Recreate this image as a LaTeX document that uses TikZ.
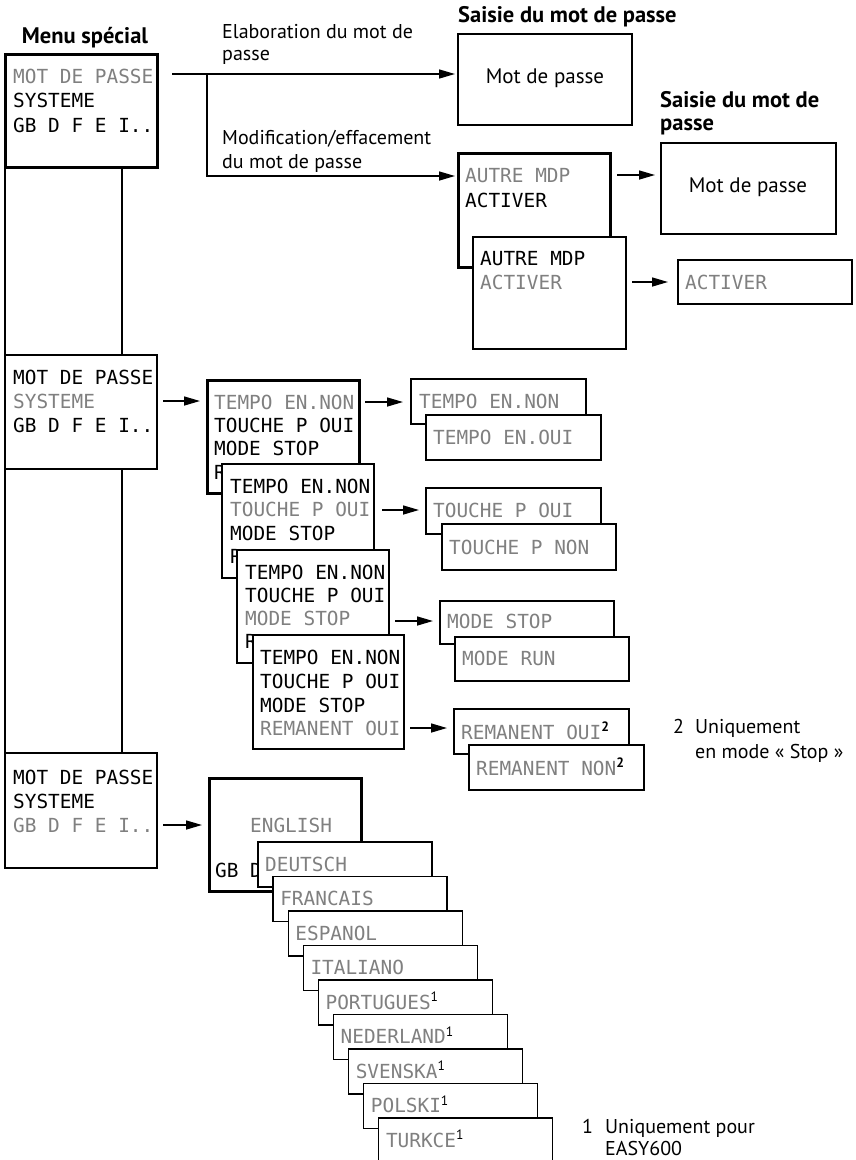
\documentclass[tikz,border=0pt]{standalone}
\usepackage{fontspec}
\setmainfont{PT Sans}
\newfontfamily\lcdfont{DejaVu Sans Mono}
\usetikzlibrary{arrows.meta,fit,calc}
\definecolor{lcdgray}{gray}{0.5}
\newcommand\lcdsup[1]{{\color{black}\textsuperscript{\rmfamily #1}}}
\tikzset{
  box/.style={draw, line width=1.3pt, fill=white, inner sep=0pt, outer sep=0pt},
  thickbox/.style={box, line width=3pt},
  lcd/.style={font=\lcdfont\fontsize{19.4}{19.4}\selectfont, text height=14.2pt, text depth=0pt, inner sep=0pt, anchor=west},
  lcdg/.style={lcd, text=lcdgray},
  lbl/.style={font=\fontsize{20}{20}\selectfont, inner sep=0pt, anchor=base west},
  ttl/.style={font=\bfseries\fontsize{22.5}{22.5}\selectfont, inner sep=0pt, anchor=base west},
  pwt/.style={font=\fontsize{21}{21}\selectfont, inner sep=0pt, anchor=base},
  conn/.style={line width=1.5pt},
  arr/.style={conn, -{Triangle[length=16pt,width=9pt]}},
}
\begin{document}
\begin{tikzpicture}[x=1pt,y=-1pt]
\useasboundingbox (0,0) rectangle (856,1160);

% titles and labels
\node[ttl, anchor=base] (tmenu) at (85,43) {Menu spécial};
\node[ttl] (tsaisieA) at (458,22) {Saisie du mot de passe};
\node[ttl] (tsaisieB1) at (660,107) {Saisie du mot de};
\node[ttl] (tsaisieB2) at (660,130) {passe};
\node[lbl] (lel1) at (222,38) {Elaboration du mot de};
\node[lbl] (lel2) at (222,60) {passe};
\node[lbl] (lmo1) at (222,144) {Modification/effacement};
\node[lbl] (lmo2) at (222,168) {du mot de passe};

% main menu boxes
\node[thickbox, fit={(5,54) (157,167)}] (m1) {};
\node[lcdg] (m1a) at (13,76) {MOT DE PASSE};
\node[lcd]  (m1b) at (13,100) {SYSTEME};
\node[lcd]  (m1c) at (13,125) {GB D F E I..};

\node[box, fit={(5,355) (157,469)}] (m2) {};
\node[lcd]  (m2a) at (13,377) {MOT DE PASSE};
\node[lcdg] (m2b) at (13,401) {SYSTEME};
\node[lcd]  (m2c) at (13,425) {GB D F E I..};

\node[box, fit={(5,753) (157,868)}] (m3) {};
\node[lcd]  (m3a) at (13,777) {MOT DE PASSE};
\node[lcd]  (m3b) at (13,801) {SYSTEME};
\node[lcdg] (m3c) at (13,825) {GB D F E I..};

\draw[box] (m1.south west) -- (m2.north west);
\draw[box] ($(m1.south west)+(117,0)$) -- ($(m2.north west)+(117,0)$);
\draw[box] (m2.south west) -- (m3.north west);
\draw[box] ($(m2.south west)+(117,0)$) -- ($(m3.north west)+(117,0)$);

% password branch
\node[box, fit={(458,34) (632,125)}] (pw1) {};
\node[pwt] (pw1t) at (545,83) {Mot de passe};
\coordinate (s1) at (172,74);
\coordinate (b1) at (207,74);
\coordinate (b2) at (207,176);
\draw[arr, shorten >=3pt] (s1) -- (s1 -| pw1.west);

\node[thickbox, fit={(458,153) (610,267)}] (am1) {};
\node[lcdg] (am1a) at (465,175) {AUTRE MDP};
\node[lcd]  (am1b) at (465,200) {ACTIVER};
\draw[arr, shorten >=3pt] (b1) |- (am1.west |- b2);

\node[box, fit={(661,143) (836,234)}] (pw2) {};
\node[pwt] (pw2t) at (748,192) {Mot de passe};
\draw[arr, shorten <=7pt, shorten >=6pt] (am1.east |- am1a) -- (pw2.west |- am1a);

\node[box, fit={(473,237) (626,349)}] (am2) {};
\node[lcd]  (am2a) at (480,258) {AUTRE MDP};
\node[lcdg] (am2b) at (480,282) {ACTIVER};

\node[box, fit={(678,260) (852,304)}] (act) {};
\node[lcdg] (actt) at (685,282) {ACTIVER};
\draw[arr, shorten <=6pt, shorten >=10pt] (am2.east |- am2b) -- (act.west |- am2b);

% system menu
\node[thickbox, fit={(207,380) (359,493)}] (t1) {};
\node[lcdg] (t1a) at (214,402) {TEMPO EN.NON};
\node[lcd]  (t1b) at (214,425) {TOUCHE P OUI};
\node[lcd]  (t1c) at (214,448) {MODE STOP};
\node[lcd]  (t1d) at (214,472) {R};
\draw[arr, shorten <=6pt, shorten >=7pt] (m2.east |- m2b) -- (t1.west |- m2b);

\node[box, fit={(222,464) (374,578)}] (t2) {};
\node[lcd]  (t2a) at (230,486) {TEMPO EN.NON};
\node[lcdg] (t2b) at (230,509) {TOUCHE P OUI};
\node[lcd]  (t2c) at (230,533) {MODE STOP};
\node[lcd]  (t2d) at (230,556) {R};

\node[box, fit={(237,550) (389,663)}] (t3) {};
\node[lcd]  (t3a) at (245,572) {TEMPO EN.NON};
\node[lcd]  (t3b) at (245,595) {TOUCHE P OUI};
\node[lcdg] (t3c) at (245,618) {MODE STOP};
\node[lcd]  (t3d) at (245,641) {R};

\node[box, fit={(253,635) (404,749)}] (t4) {};
\node[lcd]  (t4a) at (260,657) {TEMPO EN.NON};
\node[lcd]  (t4b) at (260,681) {TOUCHE P OUI};
\node[lcd]  (t4c) at (260,705) {MODE STOP};
\node[lcdg] (t4d) at (260,728) {REMANENT OUI};

% value boxes
\node[box, fit={(411,379) (586,424)}] (ten1) {};
\node[lcdg] (ten1t) at (419,401) {TEMPO EN.NON};
\node[box, fit={(426,415) (601,460)}] (ten2) {};
\node[lcdg] (ten2t) at (433,437) {TEMPO EN.OUI};
\draw[arr, shorten <=6pt, shorten >=8pt] (t1.east |- t1a) -- (ten1.west |- t1a);

\node[box, fit={(426,488) (601,534)}] (tp1) {};
\node[lcdg] (tp1t) at (433,510) {TOUCHE P OUI};
\node[box, fit={(442,524) (616,570)}] (tp2) {};
\node[lcdg] (tp2t) at (449,547) {TOUCHE P NON};
\draw[arr, shorten <=8pt, shorten >=7pt] (t2.east |- tp1t) -- (tp1.west |- tp1t);

\node[box, fit={(440,601) (614,644)}] (ms1) {};
\node[lcdg] (ms1t) at (447,621) {MODE STOP};
\node[box, fit={(455,637) (629,681)}] (ms2) {};
\node[lcdg] (ms2t) at (462,658) {MODE RUN};
\draw[arr, shorten <=6pt, shorten >=7pt] (t3.east |- ms1t) -- (ms1.west |- ms1t);

\node[box, fit={(454,709) (629,754)}] (rm1) {};
\node[lcdg] (rm1t) at (461,732) {REMANENT OUI\lcdsup{\bfseries 2}};
\node[box, fit={(469,745) (644,790)}] (rm2) {};
\node[lcdg] (rm2t) at (476,768) {REMANENT NON\lcdsup{\bfseries 2}};
\draw[arr, shorten <=6pt, shorten >=7pt] (t4.east |- t4d) -- (rm1.west |- t4d);

\node[lbl] (f2n) at (673,733) {2};
\node[lbl] (f2a) at (695,733) {Uniquement};
\node[lbl] (f2b) at (695,758) {en mode «~Stop~»};

% language menu
\node[thickbox, fit={(209,778) (361,891)}] (en) {};
\node[lcdg] (ent) at (250,825) {ENGLISH};
\node[lcd]  (enb) at (215,870) {GB D};
\draw[arr, shorten <=6pt, shorten >=7pt] (m3.east |- m3c) -- (en.west |- m3c);

\foreach \i/\nm/\txt in {0/lde/DEUTSCH,1/lfr/FRANCAIS,2/les/ESPANOL,3/lit/ITALIANO,4/lpt/PORTUGUES\lcdsup{1},5/lnl/NEDERLAND\lcdsup{1},6/lsv/SVENSKA\lcdsup{1},7/lpl/POLSKI\lcdsup{1},8/ltr/TURKCE\lcdsup{1}}{
  \node[box, fit={(258+15.1*\i,842+34.5*\i) (432+15.1*\i,887+34.5*\i)}] (\nm) {};
  \node[lcdg] (\nm t) at (265+15.1*\i,864+34.5*\i) {\txt};
}

\node[lbl] (f1n) at (582,1133) {1};
\node[lbl] (f1a) at (605,1133) {Uniquement pour};
\node[lbl] (f1b) at (605,1155) {EASY600};
\end{tikzpicture}
\end{document}
